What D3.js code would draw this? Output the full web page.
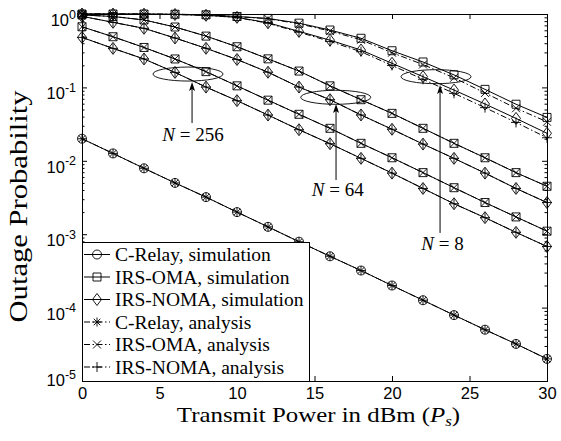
<!DOCTYPE html>
<html>
<head>
<meta charset="utf-8">
<script src="https://cdn.jsdelivr.net/npm/d3@7"></script>
<style>
  body { margin: 0; background: #fff; }
</style>
</head>
<body>
<div id="chart"></div>
<script>
// Transmit power (dBm), one marker every 2 dB
var powerDb = [0, 2, 4, 6, 8, 10, 12, 14, 16, 18, 20, 22, 24, 26, 28, 30];

// C-Relay
var cRelaySim = [2.0e-2, 1.26e-2, 7.9e-3, 5.0e-3, 3.2e-3, 2.0e-3, 1.26e-3, 7.9e-4, 5.0e-4, 3.2e-4, 2.0e-4, 1.26e-4, 7.9e-5, 5.0e-5, 3.2e-5, 2.0e-5];
var cRelayAna = [2.0e-2, 1.26e-2, 7.9e-3, 5.0e-3, 3.2e-3, 2.0e-3, 1.26e-3, 7.9e-4, 5.0e-4, 3.2e-4, 2.0e-4, 1.26e-4, 7.9e-5, 5.0e-5, 3.2e-5, 2.0e-5];

// N = 256
var omaN256Sim  = [0.67, 0.49, 0.35, 0.244, 0.164, 0.105, 0.067, 0.043, 0.0277, 0.0173, 0.011, 0.0069, 0.0043, 0.0027, 0.00172, 0.0011];
var nomaN256Sim = [0.48, 0.34, 0.244, 0.16, 0.101, 0.066, 0.042, 0.0265, 0.0171, 0.0108, 0.0068, 0.0042, 0.0026, 0.00168, 0.00106, 0.00068];
var omaN256Ana  = [0.67, 0.49, 0.35, 0.244, 0.164, 0.105, 0.067, 0.043, 0.0277, 0.0173, 0.011, 0.0069, 0.0043, 0.0027, 0.00172, 0.0011];
var nomaN256Ana = [0.48, 0.34, 0.244, 0.16, 0.101, 0.066, 0.042, 0.0265, 0.0171, 0.0108, 0.0068, 0.0042, 0.0026, 0.00168, 0.00106, 0.00068];

// N = 64
var omaN64Sim  = [0.97, 0.925, 0.83, 0.665, 0.5, 0.358, 0.245, 0.167, 0.105, 0.068, 0.0443, 0.0277, 0.0173, 0.011, 0.0069, 0.0045];
var nomaN64Sim = [0.93, 0.77, 0.638, 0.471, 0.341, 0.24, 0.161, 0.101, 0.068, 0.0421, 0.0269, 0.0169, 0.0108, 0.0068, 0.0042, 0.0027];
var omaN64Ana  = [0.97, 0.925, 0.83, 0.665, 0.5, 0.358, 0.245, 0.167, 0.105, 0.068, 0.0443, 0.0277, 0.0173, 0.011, 0.0069, 0.0045];
var nomaN64Ana = [0.93, 0.77, 0.638, 0.471, 0.341, 0.24, 0.161, 0.101, 0.068, 0.0421, 0.0269, 0.0169, 0.0108, 0.0068, 0.0042, 0.0027];

// N = 8 (analysis drifts a little below simulation at high power)
var omaN8Sim  = [1.0, 0.999, 0.998, 0.992, 0.975, 0.925, 0.87, 0.75, 0.605, 0.467, 0.316, 0.222, 0.148, 0.094, 0.059, 0.039];
var nomaN8Sim = [1.0, 0.998, 0.995, 0.985, 0.96, 0.9, 0.76, 0.58, 0.44, 0.323, 0.213, 0.14, 0.092, 0.0594, 0.0378, 0.0237];
var omaN8Ana  = [1.0, 0.999, 0.998, 0.992, 0.975, 0.922, 0.862, 0.735, 0.585, 0.445, 0.297, 0.205, 0.135, 0.084, 0.052, 0.034];
var nomaN8Ana = [1.0, 0.998, 0.995, 0.985, 0.958, 0.895, 0.748, 0.565, 0.423, 0.306, 0.199, 0.129, 0.083, 0.053, 0.0333, 0.0206];

var xTicks = [0, 5, 10, 15, 20, 25, 30];
var yExponents = [0, -1, -2, -3, -4, -5];

var legendLabels = ["C-Relay, simulation", "IRS-OMA, simulation", "IRS-NOMA, simulation",
                    "C-Relay, analysis", "IRS-OMA, analysis", "IRS-NOMA, analysis"];
var legendMarkers = ["circle", "square", "diamond", "asterisk", "cross", "plus"];

// N annotations, in data units (dB, probability)
var annotations = [
  {label: "256", ex: 6.84, ey: 0.152, ax: 7.1, tip: 0.1185, tail: 0.0327, lx: 7.16, ly: 0.0186},
  {label: "64", ex: 16.37, ey: 0.0733, ax: 16.39, tip: 0.0594, tail: 0.00547, lx: 16.5, ly: 0.00331},
  {label: "8", ex: 22.84, ey: 0.140, ax: 23.1, tip: 0.108, tail: 0.00104, lx: 23.26, ly: 0.000609}
];

var series = [
  {values: cRelaySim, marker: "circle", dash: false},
  {values: omaN256Sim, marker: "square", dash: false},
  {values: nomaN256Sim, marker: "diamond", dash: false},
  {values: omaN64Sim, marker: "square", dash: false},
  {values: nomaN64Sim, marker: "diamond", dash: false},
  {values: omaN8Sim, marker: "square", dash: false},
  {values: nomaN8Sim, marker: "diamond", dash: false},
  {values: cRelayAna, marker: "asterisk", dash: true},
  {values: omaN256Ana, marker: "cross", dash: true},
  {values: nomaN256Ana, marker: "plus", dash: true},
  {values: omaN64Ana, marker: "cross", dash: true},
  {values: nomaN64Ana, marker: "plus", dash: true},
  {values: omaN8Ana, marker: "cross", dash: true},
  {values: nomaN8Ana, marker: "plus", dash: true}
];

var WIDTH = 561, HEIGHT = 441;
var margin = {left: 82, right: 14, top: 14, bottom: 60};
var DASHDOT = "6,2.5,1.5,2.5";
var SERIF = "'Liberation Serif', 'Times New Roman', serif";
var SANS = "'Liberation Sans', Arial, Helvetica, sans-serif";

var xscale = d3.scaleLinear().domain([0, 30]).range([margin.left, WIDTH - margin.right]);
var yscale = d3.scaleLog().domain([1e-5, 1]).range([HEIGHT - margin.bottom, margin.top]);

// marker shapes centred on (x, y)
function markerPath(type, x, y) {
  switch (type) {
    case "circle":
      var r = 4.5;
      return `M${x - r},${y}a${r},${r} 0 1,0 ${2 * r},0a${r},${r} 0 1,0 ${-2 * r},0`;
    case "square":
      var s = 4;
      return `M${x - s},${y - s}h${2 * s}v${2 * s}h${-2 * s}Z`;
    case "diamond":
      var w = 4.5, h = 6;
      return `M${x},${y - h}L${x + w},${y}L${x},${y + h}L${x - w},${y}Z`;
    case "cross":
      var c = 4;
      return `M${x - c},${y - c}L${x + c},${y + c}M${x - c},${y + c}L${x + c},${y - c}`;
    case "plus":
      var p = 5;
      return `M${x - p},${y}h${2 * p}M${x},${y - p}v${2 * p}`;
    case "asterisk":
      var a = 4.5, b = 3.3;
      return `M${x - a},${y}h${2 * a}M${x},${y - a}v${2 * a}` +
             `M${x - b},${y - b}L${x + b},${y + b}M${x - b},${y + b}L${x + b},${y - b}`;
  }
}

var svg = d3.select("#chart")
            .append("svg")
              .attr("width", WIDTH)
              .attr("height", HEIGHT);

var line = d3.line()
             .x(function (d, i) { return xscale(powerDb[i]); })
             .y(function (d) { return yscale(d); });

// curves
svg.selectAll("path.curve")
   .data(series)
   .enter()
   .append("path")
     .attr("class", "curve")
     .attr("d", function (s) { return line(s.values); })
     .attr("fill", "none")
     .attr("stroke", "#000")
     .attr("stroke-width", 1)
     .attr("stroke-dasharray", function (s) { return s.dash ? DASHDOT : null; });

// markers
series.forEach(function (s) {
  svg.append("g")
     .selectAll("path")
     .data(s.values)
     .enter()
     .append("path")
       .attr("d", function (d, i) { return markerPath(s.marker, xscale(powerDb[i]), yscale(d)); })
       .attr("fill", "none")
       .attr("stroke", "#000")
       .attr("stroke-width", 0.9);
});

// axes: ticks point inwards, on all four sides
var majorY = yExponents.map(function (e) { return Math.pow(10, e); });
var minorY = [];
yExponents.slice(1).forEach(function (e) {
  for (var m = 2; m <= 9; m++) minorY.push(m * Math.pow(10, e));
});

var x0 = xscale.range()[0], x1 = xscale.range()[1];
var y0 = yscale.range()[0], y1 = yscale.range()[1];

svg.append("g")
   .attr("transform", `translate(0,${y0})`)
   .call(d3.axisBottom(xscale).tickValues(xTicks).tickSize(-5).tickSizeOuter(0).tickPadding(6))
   .call(function (g) {
     g.selectAll("text").attr("font-family", SANS).attr("font-size", 16.5).attr("fill", "#000");
   });

svg.append("g")
   .attr("transform", `translate(0,${y1})`)
   .call(d3.axisTop(xscale).tickValues(xTicks).tickSize(-5).tickSizeOuter(0).tickFormat(""));

[[d3.axisLeft, x0], [d3.axisRight, x1]].forEach(function (a) {
  svg.append("g")
     .attr("transform", `translate(${a[1]},0)`)
     .call(a[0](yscale).tickValues(majorY).tickSize(-5).tickSizeOuter(0).tickFormat(""));
  svg.append("g")
     .attr("transform", `translate(${a[1]},0)`)
     .call(a[0](yscale).tickValues(minorY).tickSize(-2.5).tickSizeOuter(0).tickFormat(""));
});

svg.selectAll(".domain, .tick line").attr("stroke", "#000");

// y tick labels as 10^k
var yLabels = svg.append("g")
   .selectAll("text")
   .data(yExponents)
   .enter()
   .append("text")
     .attr("x", x0 - 6)
     .attr("y", function (e, i) { return yscale(Math.pow(10, e)) + (i === yExponents.length - 1 ? 5 : 12); })
     .attr("text-anchor", "end")
     .attr("font-family", SANS)
     .attr("font-size", 16.5);
yLabels.append("tspan").text("10");
yLabels.append("tspan")
       .attr("dy", -7.5)
       .attr("font-size", 12.5)
       .text(function (e) { return String(e); });

// axis titles (widened a little towards the wider original typeface)
var xTitle = svg.append("text")
   .attr("transform", `translate(${(x0 + x1) / 2 + 4},422) scale(1.13,1)`)
   .attr("text-anchor", "middle")
   .attr("font-family", SERIF)
   .attr("font-size", 22);
xTitle.append("tspan").text("Transmit Power in dBm (");
xTitle.append("tspan").attr("font-style", "italic").text("P");
xTitle.append("tspan").attr("font-style", "italic").attr("font-size", 15).attr("dy", 4).text("s");
xTitle.append("tspan").attr("dy", -4).text(")");

svg.append("text")
   .attr("transform", `translate(27,${(y0 + y1) / 2 + 9}) rotate(-90)`)
   .attr("text-anchor", "middle")
   .attr("font-family", SERIF)
   .attr("font-size", 25)
   .attr("textLength", 232)
   .attr("lengthAdjust", "spacingAndGlyphs")
   .text("Outage Probability");

// N annotations: ellipse, arrow, label
annotations.forEach(function (a) {
  svg.append("ellipse")
     .attr("cx", xscale(a.ex))
     .attr("cy", yscale(a.ey))
     .attr("rx", 35)
     .attr("ry", 7)
     .attr("fill", "none")
     .attr("stroke", "#000")
     .attr("stroke-width", 0.9);

  var ax = xscale(a.ax), tipY = yscale(a.tip), tailY = yscale(a.tail);
  svg.append("line")
     .attr("x1", ax).attr("x2", ax)
     .attr("y1", tailY).attr("y2", tipY + 4)
     .attr("stroke", "#000")
     .attr("stroke-width", 1);
  svg.append("path")
     .attr("d", `M${ax},${tipY}L${ax + 3},${tipY + 9}L${ax},${tipY + 7}L${ax - 3},${tipY + 9}Z`)
     .attr("fill", "#000");

  var t = svg.append("text")
     .attr("x", xscale(a.lx))
     .attr("y", yscale(a.ly))
     .attr("text-anchor", "middle")
     .attr("font-family", SERIF)
     .attr("font-size", 19);
  t.append("tspan").attr("font-style", "italic").text("N");
  t.append("tspan").text(" = " + a.label);
});

// legend
var legendTop = 242, legendRight = 309, ROW = 22.5;
var legend = svg.append("g");
legend.append("rect")
      .attr("x", x0 + 0.5)
      .attr("y", legendTop + 0.5)
      .attr("width", legendRight - x0)
      .attr("height", y0 - legendTop)
      .attr("fill", "#fff")
      .attr("stroke", "#000")
      .attr("stroke-width", 1);

legendLabels.forEach(function (label, i) {
  var cy = legendTop + 12.5 + i * ROW;
  legend.append("line")
        .attr("x1", x0 + 2).attr("x2", x0 + 28)
        .attr("y1", cy).attr("y2", cy)
        .attr("stroke", "#000")
        .attr("stroke-width", 1)
        .attr("stroke-dasharray", i > 2 ? DASHDOT : null);
  legend.append("path")
        .attr("d", markerPath(legendMarkers[i], x0 + 15, cy))
        .attr("fill", "none")
        .attr("stroke", "#000")
        .attr("stroke-width", 0.9);
  legend.append("text")
        .attr("x", x0 + 33)
        .attr("y", cy + 6.5)
        .attr("font-family", SERIF)
        .attr("font-size", 19.5)
        .text(label);
});

// box on top
svg.append("rect")
   .attr("x", x0 + 0.5).attr("y", y1 + 0.5)
   .attr("width", x1 - x0).attr("height", y0 - y1)
   .attr("fill", "none")
   .attr("stroke", "#000")
   .attr("stroke-width", 1);
</script>
</body>
</html>
